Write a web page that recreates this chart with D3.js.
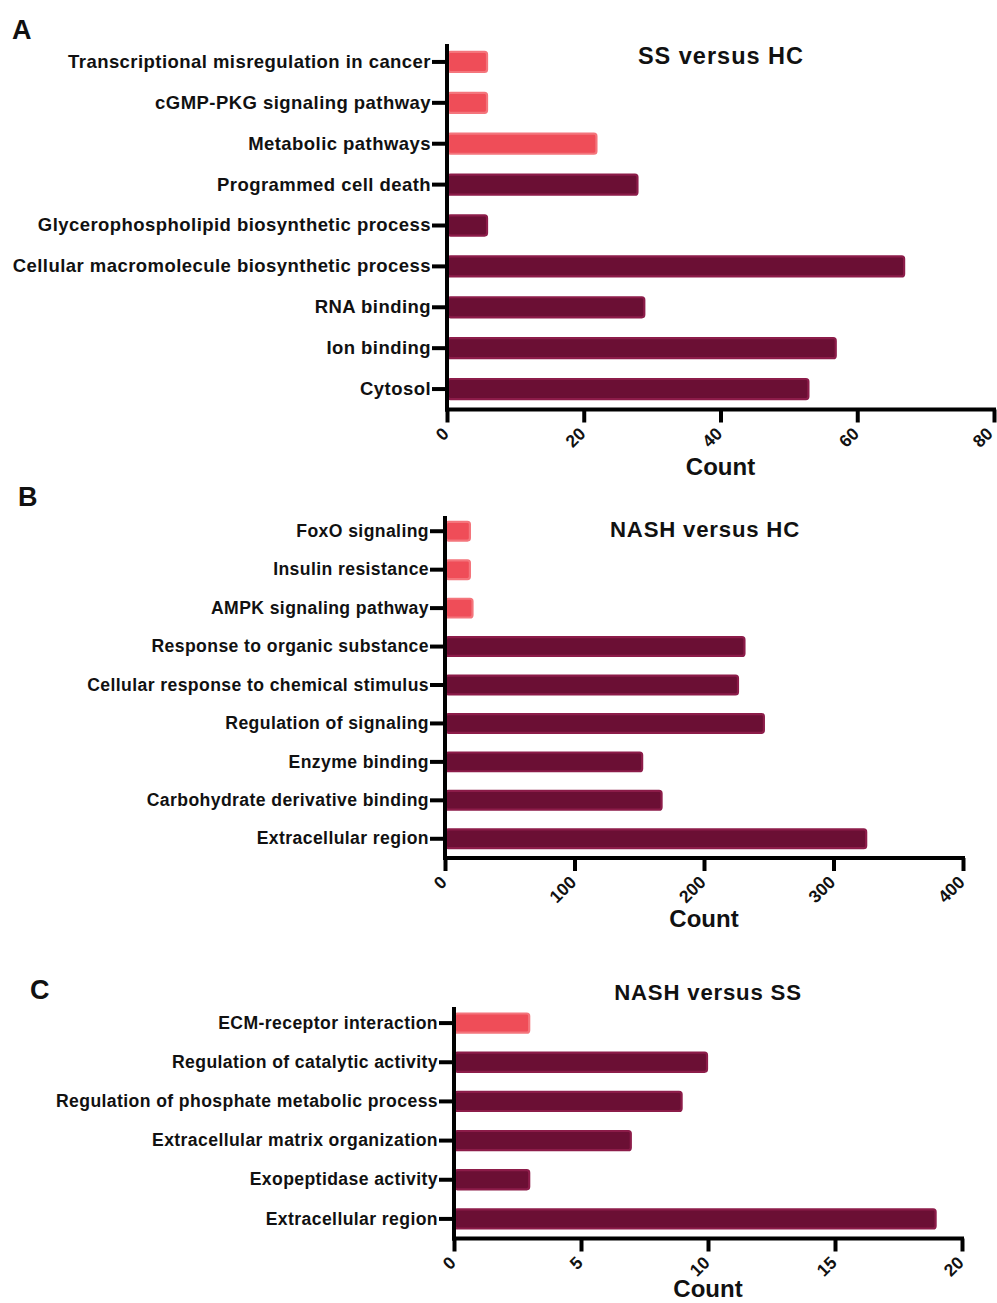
<!DOCTYPE html>
<html>
<head>
<meta charset="utf-8">
<script src="https://cdn.jsdelivr.net/npm/d3@7"></script>
<style>
  body { margin: 0; background: #fff; }
  svg { display: block; font-family: "Liberation Sans", Arial, sans-serif; }
</style>
</head>
<body>
<svg id="chart" width="997" height="1303"></svg>
<script>
// ---- Data ----
const catsA = ["Transcriptional misregulation in cancer", "cGMP-PKG signaling pathway", "Metabolic pathways",
  "Programmed cell death", "Glycerophospholipid biosynthetic process", "Cellular macromolecule biosynthetic process",
  "RNA binding", "Ion binding", "Cytosol"];
const valsA = [6, 6, 22, 28, 6, 67, 29, 57, 53];
const typeA = ["KEGG", "KEGG", "KEGG", "GO", "GO", "GO", "GO", "GO", "GO"];
const ticksA = [0, 20, 40, 60, 80];

const catsB = ["FoxO signaling ", "Insulin resistance", "AMPK signaling pathway", "Response to organic substance",
  "Cellular response to chemical stimulus", "Regulation of signaling", "Enzyme binding",
  "Carbohydrate derivative binding", "Extracellular region"];
const valsB = [20, 20, 22, 232, 227, 247, 153, 168, 326];
const typeB = ["KEGG", "KEGG", "KEGG", "GO", "GO", "GO", "GO", "GO", "GO"];
const ticksB = [0, 100, 200, 300, 400];

const catsC = ["ECM-receptor interaction", "Regulation of catalytic activity", "Regulation of phosphate metabolic process",
  "Extracellular matrix organization", "Exopeptidase activity", "Extracellular region"];
const valsC = [3, 10, 9, 7, 3, 19];
const typeC = ["KEGG", "GO", "GO", "GO", "GO", "GO"];
const ticksC = [0, 5, 10, 15, 20];

const panelLetters = ["A", "B", "C"];
const panelTitles = ["SS versus HC", "NASH versus HC", "NASH versus SS"];

const fillColor = { KEGG: "#ef4d58", GO: "#6b0f34" };
const strokeColor = { KEGG: "#f4757c", GO: "#8c1c49" };

// ---- Layout ----
const svg = d3.select("#chart");

const panels = [
  { cats: catsA, vals: valsA, types: typeA, ticks: ticksA, letter: panelLetters[0], title: panelTitles[0],
    x0: 447, x1: 994, yTop: 41.5, yBot: 409.5, axisTop: 44, letterPos: [12, 39], titlePos: [721, 64], countY: 475,
    labelSize: 18.5, labelSpacing: 0.45, titleSize: 23.5, titleSpacing: 1.0 },
  { cats: catsB, vals: valsB, types: typeB, ticks: ticksB, letter: panelLetters[1], title: panelTitles[1],
    x0: 445, x1: 963, yTop: 512, yBot: 858, axisTop: 516, letterPos: [18, 506], titlePos: [705, 537], countY: 927,
    labelSize: 17.6, labelSpacing: 0.4, titleSize: 22.2, titleSpacing: 0.8 },
  { cats: catsC, vals: valsC, types: typeC, ticks: ticksC, letter: panelLetters[2], title: panelTitles[2],
    x0: 454, x1: 962, yTop: 1003.5, yBot: 1238.5, axisTop: 1007, letterPos: [30, 999], titlePos: [708, 1000], countY: 1297,
    labelSize: 17.6, labelSpacing: 0.4, titleSize: 22.2, titleSpacing: 0.8 }
];

panels.forEach(p => {
  const g = svg.append("g");
  const x = d3.scaleLinear().domain([p.ticks[0], p.ticks[p.ticks.length - 1]]).range([p.x0, p.x1]);
  const y = d3.scaleBand().domain(p.cats).range([p.yTop, p.yBot]).paddingInner(0.46).paddingOuter(0.23);

  // bars
  g.selectAll("rect.bar").data(p.cats).join("rect")
    .attr("class", "bar")
    .attr("x", x(0) + 1)
    .attr("y", d => y(d) + 1)
    .attr("width", (d, i) => Math.max(0, x(p.vals[i]) - x(0) - 2))
    .attr("height", y.bandwidth() - 2)
    .attr("rx", 2.5)
    .attr("fill", (d, i) => fillColor[p.types[i]])
    .attr("stroke", (d, i) => strokeColor[p.types[i]])
    .attr("stroke-width", 2.2);

  // y axis
  const yAxis = g.append("g")
    .attr("transform", `translate(${p.x0},0)`)
    .call(d3.axisLeft(y).tickSize(15).tickPadding(1).tickSizeOuter(0));
  yAxis.select(".domain").remove();
  yAxis.selectAll(".tick line").attr("stroke", "#000").attr("stroke-width", 4);
  yAxis.selectAll(".tick text")
    .attr("fill", "#111").attr("font-size", p.labelSize).attr("font-weight", "bold")
    .attr("letter-spacing", p.labelSpacing);
  g.append("line")
    .attr("x1", p.x0).attr("x2", p.x0)
    .attr("y1", p.axisTop).attr("y2", p.yBot + 2)
    .attr("stroke", "#000").attr("stroke-width", 4);

  // x axis
  const xAxis = g.append("g")
    .attr("transform", `translate(0,${p.yBot})`)
    .call(d3.axisBottom(x).tickValues(p.ticks).tickSize(13).tickSizeOuter(0));
  xAxis.select(".domain").attr("stroke", "#000").attr("stroke-width", 4)
    .attr("d", `M${p.x0 - 2},0H${p.x1 + 2}`);
  xAxis.selectAll(".tick line").attr("stroke", "#000").attr("stroke-width", 4);
  xAxis.selectAll(".tick text")
    .attr("fill", "#111").attr("font-size", 17.5).attr("font-weight", "bold")
    .attr("text-anchor", "end")
    .attr("dy", "0.35em")
    .attr("transform", d => {
      // keep the right-most label inside the page edge
      const shift = (x(d) > 985) ? -5 : -2;
      return `translate(${shift},21) rotate(-45)`;
    })
    .attr("y", 0).attr("x", 0);

  // titles
  g.append("text").attr("x", p.letterPos[0]).attr("y", p.letterPos[1])
    .attr("font-size", 27).attr("font-weight", "bold").attr("fill", "#111").text(p.letter);
  g.append("text").attr("x", p.titlePos[0]).attr("y", p.titlePos[1]).attr("text-anchor", "middle")
    .attr("font-size", p.titleSize).attr("font-weight", "bold").attr("letter-spacing", p.titleSpacing)
    .attr("fill", "#111").text(p.title);
  g.append("text").attr("x", (p.x0 + p.x1) / 2).attr("y", p.countY).attr("text-anchor", "middle")
    .attr("font-size", 24).attr("font-weight", "bold").attr("fill", "#111").text("Count");
});
</script>
</body>
</html>
